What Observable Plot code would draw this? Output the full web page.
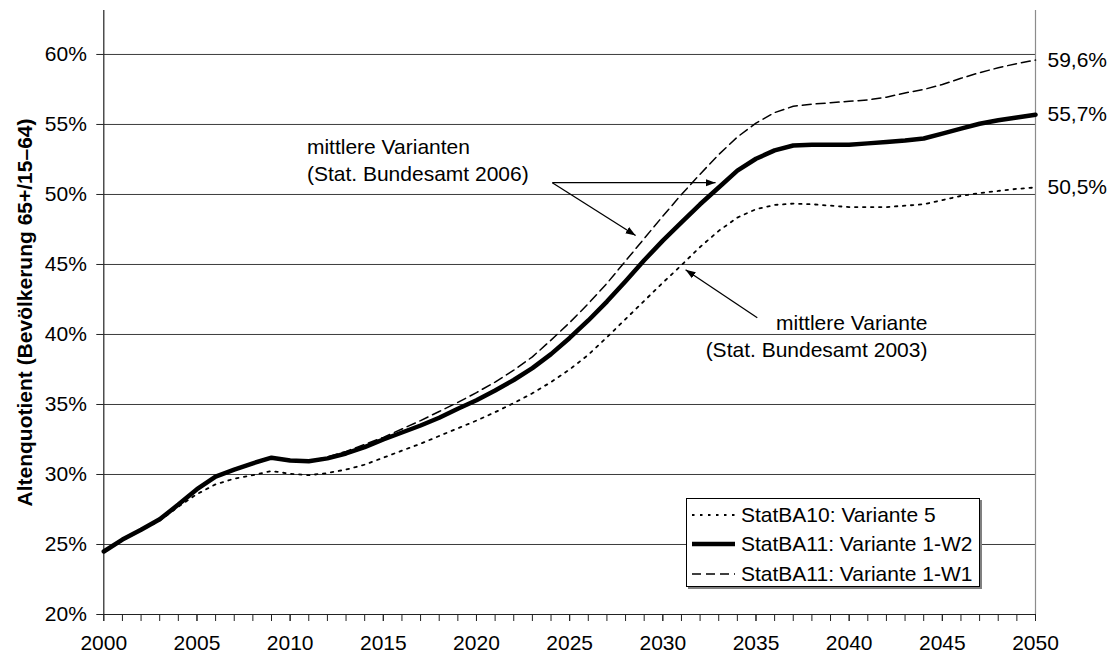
<!DOCTYPE html>
<html><head><meta charset="utf-8">
<script src="https://cdn.jsdelivr.net/npm/d3@7"></script>
<script src="https://cdn.jsdelivr.net/npm/@observablehq/plot@0.6"></script>
<style>
body{margin:0;background:#fff;font-family:"Liberation Sans",Arial,sans-serif;}
#wrap{position:relative;width:1112px;height:659px;}
#legend{position:absolute;left:686px;top:498px;height:89px;border:1px solid #000;background:#fff;box-shadow:2px 2px 0 #808080;font-size:21px;padding-right:6px;box-sizing:border-box;}
#legend .row{height:29.5px;display:flex;align-items:center;white-space:nowrap;}
#legend .row:first-child{margin-top:1px}
#legend svg{margin-left:5px;margin-right:6px;}
</style></head>
<body><div id="wrap"></div>
<script>
const years = [2000,2001,2002,2003,2004,2005,2006,2007,2008,2009,
  2010,2011,2012,2013,2014,2015,2016,2017,2018,2019,
  2020,2021,2022,2023,2024,2025,2026,2027,2028,2029,
  2030,2031,2032,2033,2034,2035,2036,2037,2038,2039,
  2040,2041,2042,2043,2044,2045,2046,2047,2048,2049,2050];
// StatBA10: Variante 5 (dotted)
const v5 = [24.5,25.3,26.0,26.7,27.7,28.6,29.3,29.7,29.95,30.25,
  30.05,29.95,30.1,30.35,30.7,31.2,31.7,32.2,32.75,33.3,
  33.85,34.45,35.1,35.8,36.6,37.5,38.55,39.8,41.1,42.4,
  43.7,44.95,46.25,47.4,48.35,48.95,49.25,49.35,49.3,49.2,
  49.1,49.1,49.1,49.2,49.3,49.6,49.9,50.1,50.25,50.4,50.5];
// StatBA11: Variante 1-W2 (thick solid)
const w2 = [24.5,25.35,26.05,26.8,27.85,28.95,29.85,30.35,30.8,31.2,
  31.0,30.95,31.15,31.5,31.95,32.5,33.0,33.5,34.05,34.7,
  35.3,36.0,36.75,37.6,38.6,39.75,41.0,42.35,43.8,45.3,
  46.7,48.0,49.3,50.5,51.7,52.55,53.15,53.5,53.55,53.55,
  53.55,53.65,53.75,53.85,54.0,54.35,54.7,55.05,55.3,55.5,55.7];
// StatBA11: Variante 1-W1 (dashed)
const w1 = [24.5,25.35,26.05,26.8,27.85,28.95,29.85,30.35,30.8,31.2,
  31.0,30.95,31.25,31.65,32.15,32.65,33.25,33.85,34.5,35.15,
  35.85,36.6,37.45,38.4,39.6,40.85,42.2,43.65,45.25,46.85,
  48.45,50.0,51.45,52.85,54.1,55.1,55.85,56.3,56.45,56.55,
  56.65,56.75,56.95,57.25,57.5,57.85,58.3,58.7,59.05,59.35,59.6];

const seriesNames = ["StatBA10: Variante 5","StatBA11: Variante 1-W2","StatBA11: Variante 1-W1"];
const endLabels = ["50,5%","55,7%","59,6%"];
const yTicks = [20,25,30,35,40,45,50,55,60];
const xLabelTicks = [2000,2005,2010,2015,2020,2025,2030,2035,2040,2045,2050];
const yTitle = "Altenquotient (Bevölkerung 65+/15–64)";

const annotLeft = [{x: 2010.9, y: 52.55, text: "mittlere Varianten\n(Stat. Bundesamt 2006)"}];
const annotRight = [{x: 2044.2, y: 39.95, text: "mittlere Variante\n(Stat. Bundesamt 2003)"}];
const arrowFromX = [2024.07, 2024.07, 2035.07];
const arrowFromY = [50.84, 50.84, 41.19];
const arrowToX = [2032.83, 2028.54, 2031.22];
const arrowToY = [50.84, 47.07, 44.62];

const styles = [
  {stroke: "#000", strokeWidth: 1.8, dash: "2.5,5.5"},
  {stroke: "#000", strokeWidth: 4.5, dash: null},
  {stroke: "#000", strokeWidth: 1.5, dash: "9,5"}
];
const seriesValues = [v5, w2, w1];

const rows = (vals) => years.map((yr, i) => ({year: yr, value: vals[i]}));
const ends = seriesValues.map((vals, i) => ({year: years[years.length - 1], value: vals[vals.length - 1], label: endLabels[i]}));
const arrows = arrowFromX.map((_, i) => ({x1: arrowFromX[i], y1: arrowFromY[i], x2: arrowToX[i], y2: arrowToY[i]}));

const font = '"Liberation Sans", Arial, sans-serif';

const lineMarks = seriesValues.map((vals, i) => Plot.line(rows(vals), {
  x: "year", y: "value", stroke: styles[i].stroke, strokeWidth: styles[i].strokeWidth,
  strokeDasharray: styles[i].dash || undefined, strokeLinejoin: "round"
}));

const chart = Plot.plot({
  width: 1112, height: 659,
  marginLeft: 103.3, marginRight: 77, marginTop: 10, marginBottom: 45,
  style: {fontFamily: font, fontSize: "21px", color: "#000", background: "#fff", overflow: "visible"},
  x: {domain: [2000, 2050]},
  y: {domain: [20, 63.14]},
  marks: [
    Plot.ruleY(yTicks.filter(v => v > 20), {stroke: "#3c3c3c", strokeWidth: 1}),
    Plot.ruleX([2050], {stroke: "#8c8c8c", strokeWidth: 1.2}),
    Plot.ruleX([2000], {stroke: "#222", strokeWidth: 1.2}),
    Plot.ruleY([20], {stroke: "#222", strokeWidth: 1.2}),
    Plot.axisX({ticks: years, tickFormat: () => "", tickSize: 7, stroke: "#222"}),
    Plot.axisX({ticks: xLabelTicks, tickFormat: d => String(d), tickSize: 7, tickPadding: 14, fontSize: 21, stroke: "#222", label: null}),
    Plot.axisY({ticks: yTicks, tickFormat: d => d + "%", tickSize: 7, tickPadding: 10, fontSize: 21, stroke: "#222", label: null}),
    Plot.text([yTitle], {frameAnchor: "left", textAnchor: "middle", dx: -79, rotate: -90, fontWeight: "bold", fontSize: 21, text: d => d}),
    ...lineMarks,
    Plot.link(arrows, {x1: "x1", y1: "y1", x2: "x2", y2: "y2", stroke: "#000", strokeWidth: 1.3, markerEnd: "arrow"}),
    Plot.text(annotLeft, {x: "x", y: "y", text: "text", textAnchor: "start", fontSize: 21, lineHeight: 1.3}),
    Plot.text(annotRight, {x: "x", y: "y", text: "text", textAnchor: "end", fontSize: 21, lineHeight: 1.27}),
    Plot.text(ends, {x: "year", y: "value", text: "label", textAnchor: "start", dx: 12, fontSize: 21})
  ]
});

// filled triangular arrowheads
d3.select(chart).selectAll("marker")
  .attr("viewBox", "-10 -5 10 10")
  .attr("markerUnits", "userSpaceOnUse")
  .attr("markerWidth", 10).attr("markerHeight", 10)
  .attr("fill", "#000").attr("stroke", "none")
  .selectAll("path").attr("d", "M-10,-3.6L0,0L-10,3.6Z");

const wrap = document.getElementById("wrap");
wrap.appendChild(chart);

// legend box inside the plot area
const legend = document.createElement("div");
legend.id = "legend";
seriesNames.forEach((name, i) => {
  const row = document.createElement("div");
  row.className = "row";
  const s = d3.create("svg").attr("width", 43).attr("height", 10);
  s.append("line").attr("x1", 0).attr("x2", 43).attr("y1", 5).attr("y2", 5)
    .attr("stroke", styles[i].stroke).attr("stroke-width", styles[i].strokeWidth)
    .attr("stroke-dasharray", styles[i].dash);
  row.appendChild(s.node());
  const t = document.createElement("span");
  t.textContent = name;
  row.appendChild(t);
  legend.appendChild(row);
});
wrap.appendChild(legend);
</script>
</body></html>
